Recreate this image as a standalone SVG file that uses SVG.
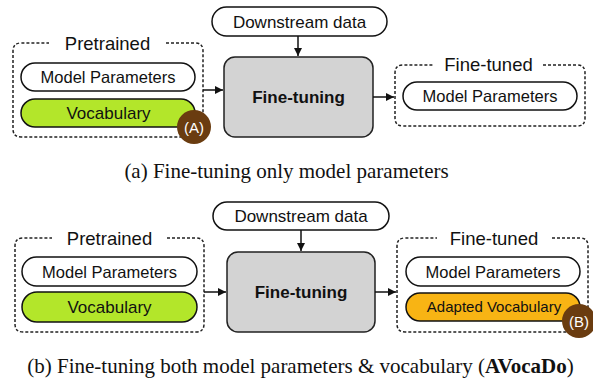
<svg xmlns="http://www.w3.org/2000/svg" width="593" height="378" viewBox="0 0 593 378">
<defs>
<style>
.grp{fill:none;stroke:#222;stroke-width:1.5;stroke-dasharray:3 2}
.pill{fill:#fff;stroke:#111;stroke-width:1.5}
.voc{fill:#b3e62a;stroke:#111;stroke-width:1.5}
.avoc{fill:#f8b414;stroke:#111;stroke-width:1.5}
.ft{fill:#d3d3d3;stroke:#222;stroke-width:1.5}
.badge{fill:#6a3c10}
.t{font-family:"Liberation Sans",Arial,sans-serif;fill:#111;text-anchor:middle}
.lbl{font-size:18.5px}
.pt{font-size:16.5px}
.b{font-weight:bold;font-size:17px}
.bt{font-family:"Liberation Sans",Arial,sans-serif;fill:#fff;font-size:15px;text-anchor:middle}
.cap{font-family:"Liberation Serif","Times New Roman",serif;font-size:21px;fill:#111;text-anchor:middle}
.con{stroke:#111;stroke-width:1.5;fill:none;marker-end:url(#ah)}
</style>
<marker id="ah" viewBox="0 0 10 10" refX="10" refY="5" markerWidth="8" markerHeight="8" markerUnits="userSpaceOnUse" orient="auto">
<path d="M0,0 L10,5 L0,10 z" fill="#111"/>
</marker>
</defs>
<rect width="593" height="378" fill="#fff"/>

<!-- Panel (a) -->
<g id="a-downstream">
<rect class="pill" x="212" y="7" width="175" height="29" rx="14.5"/>
<text class="t pt" style="font-size:17px" x="299.5" y="27.5">Downstream data</text>
</g>
<g id="a-pretrained">
<path class="grp" d="M166,43 H195 Q203,43 203,51 V129 Q203,137 195,137 H21 Q13,137 13,129 V51 Q13,43 21,43 H49"/>
<text class="t lbl" x="107.5" y="50">Pretrained</text>
</g>
<g id="a-modelparams">
<rect class="pill" x="21" y="63" width="174" height="28" rx="14"/>
<text class="t pt" x="108" y="83">Model Parameters</text>
</g>
<g id="a-vocab">
<rect class="voc" x="21" y="99" width="174" height="28" rx="14"/>
<text class="t pt" style="font-size:17px" x="108.5" y="119">Vocabulary</text>
</g>
<g id="a-badge">
<circle class="badge" cx="194" cy="127" r="17"/>
<text class="bt" x="194" y="132.5">(A)</text>
</g>
<g id="a-finetuning">
<rect class="ft" x="224" y="57" width="149" height="80" rx="11"/>
<text class="t b" x="298.5" y="103">Fine-tuning</text>
</g>
<g id="a-finetuned">
<path class="grp" d="M543,65 H577 Q585,65 585,73 V118 Q585,126 577,126 H403 Q395,126 395,118 V73 Q395,65 403,65 H433"/>
<text class="t lbl" x="488.5" y="71">Fine-tuned</text>
</g>
<g id="a-ft-modelparams">
<rect class="pill" x="403" y="82" width="174" height="28" rx="14"/>
<text class="t pt" x="490" y="102">Model Parameters</text>
</g>

<!-- Panel (b) -->
<g id="b-downstream">
<rect class="pill" x="213" y="202" width="176" height="28" rx="14"/>
<text class="t pt" style="font-size:17px" x="301" y="222">Downstream data</text>
</g>
<g id="b-pretrained">
<path class="grp" d="M167,238 H196 Q204,238 204,246 V324 Q204,332 196,332 H23 Q15,332 15,324 V246 Q15,238 23,238 H52"/>
<text class="t lbl" x="109.5" y="245">Pretrained</text>
</g>
<g id="b-modelparams">
<rect class="pill" x="22" y="257" width="175" height="29" rx="14.5"/>
<text class="t pt" x="109.5" y="277.5">Model Parameters</text>
</g>
<g id="b-vocab">
<rect class="voc" x="22" y="292" width="175" height="30" rx="15"/>
<text class="t pt" style="font-size:17px" x="109.5" y="313">Vocabulary</text>
</g>
<g id="b-finetuning">
<rect class="ft" x="227" y="252" width="148" height="80" rx="11"/>
<text class="t b" x="301" y="298">Fine-tuning</text>
</g>
<g id="b-finetuned">
<path class="grp" d="M552,238 H580 Q588,238 588,246 V324 Q588,332 580,332 H405 Q397,332 397,324 V246 Q397,238 405,238 H437"/>
<text class="t lbl" x="494" y="245">Fine-tuned</text>
</g>
<g id="b-ft-modelparams">
<rect class="pill" x="406" y="257" width="174" height="29" rx="14.5"/>
<text class="t pt" x="493" y="277.5">Model Parameters</text>
</g>
<g id="b-adapted">
<rect class="avoc" x="406" y="293" width="174" height="28" rx="14"/>
<text class="t" style="font-size:15px" x="494" y="312">Adapted Vocabulary</text>
</g>
<g id="b-badge">
<circle class="badge" cx="579" cy="321" r="17"/>
<text class="bt" x="579" y="326.5">(B)</text>
</g>

<g id="connectors">
<line class="con" x1="203" y1="90" x2="223" y2="90"/>
<line class="con" x1="298" y1="36" x2="298" y2="56"/>
<line class="con" x1="373" y1="97" x2="394" y2="97"/>
<line class="con" x1="204" y1="292" x2="226" y2="292"/>
<line class="con" x1="301" y1="230" x2="301" y2="251"/>
<line class="con" x1="375" y1="292" x2="396" y2="292"/>
</g>

<g id="captions">
<text class="cap" x="286.5" y="178">(a) Fine-tuning only model parameters</text>
<text class="cap" x="300.5" y="373">(b) Fine-tuning both model parameters &amp; vocabulary (<tspan font-weight="bold">AVocaDo</tspan>)</text>
</g>
</svg>
